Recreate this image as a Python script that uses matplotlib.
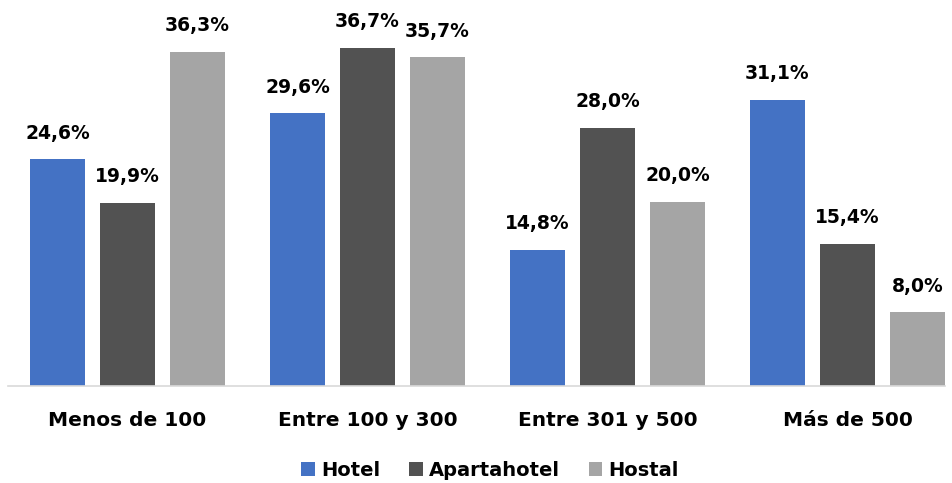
import matplotlib.pyplot as plt
import numpy as np

# datos
categorias = ['Menos de 100', 'Entre 100 y 300', 'Entre 301 y 500', 'Más de 500']
hotel = [24.6, 29.6, 14.8, 31.1]
apartahotel = [19.9, 36.7, 28.0, 15.4]
hostal = [36.3, 35.7, 20.0, 8.0]

series = [('Hotel', hotel, '#4472C4'),
          ('Apartahotel', apartahotel, '#525252'),
          ('Hostal', hostal, '#A5A5A5')]

plt.rcParams['font.family'] = ['DejaVu Sans']

fig = plt.figure(figsize=(9.52, 4.83), dpi=100)
ax = fig.add_axes([7.5 / 952, 97 / 483, 960 / 952, 368.4 / 483])

x = np.arange(len(categorias))
ancho = 55 / 240
paso = 70 / 240

for i, (nombre, valores, color) in enumerate(series):
    pos = x + (i - 1) * paso
    barras = ax.bar(pos, valores, ancho, color=color, label=nombre)
    for b, v in zip(barras, valores):
        ax.annotate(f'{v:.1f}%'.replace('.', ','),
                    (b.get_x() + b.get_width() / 2, v),
                    xytext=(0, 12), textcoords='offset points',
                    ha='center', va='bottom', fontsize=13.5, fontweight='bold')

ax.set_xlim(-0.5, 3.5)
ax.set_ylim(0, 40)
ax.set_xticks(x)
ax.set_xticklabels(categorias, fontsize=14.5, fontweight='bold')
ax.tick_params(axis='x', length=0, pad=18)
ax.set_yticks([])
for s in ['top', 'right', 'left']:
    ax.spines[s].set_visible(False)
ax.spines['bottom'].set_color('#D9D9D9')
ax.spines['bottom'].set_linewidth(1.2)
ax.spines['bottom'].set_bounds(-0.5, (945 - 127.5) / 240)

fig.legend(loc='center', bbox_to_anchor=(490 / 952, 1 - 470 / 483), ncol=3,
           frameon=False, prop={'weight': 'bold', 'size': 14},
           handlelength=0.7, handleheight=0.7, handletextpad=0.3, columnspacing=1.5)

fig.savefig('out.png', dpi=100)
